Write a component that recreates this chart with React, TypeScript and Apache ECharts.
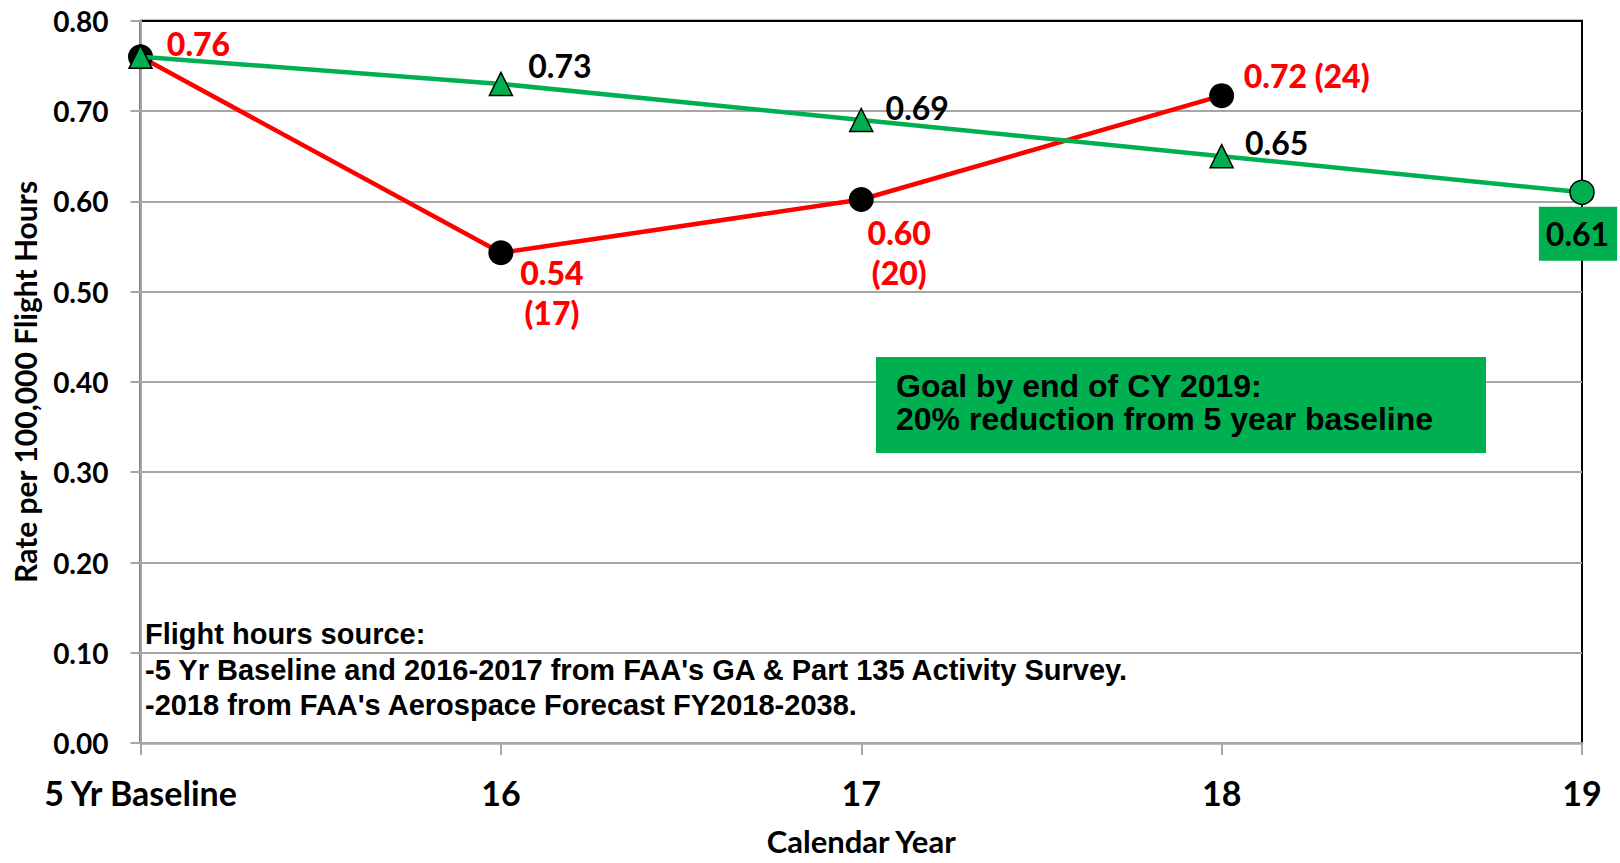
import React, { useEffect, useRef } from 'react';
import * as echarts from 'echarts';

const categories = ['5 Yr Baseline', '16', '17', '18', '19'];
const actualRate: (number | null)[] = [0.76, 0.543, 0.602, 0.717, null];
const accidentCounts: (number | null)[] = [null, 17, 20, 24, null];
const goalRate = [0.76, 0.73, 0.69, 0.65, 0.61];
const yMin = 0;
const yMax = 0.8;
const yStep = 0.1;
const goalNote = ['Goal by end of CY 2019:', '20% reduction from 5 year baseline'];
const sourceNote = [
  'Flight hours source:',
  "-5 Yr Baseline and 2016-2017 from FAA's GA & Part 135 Activity Survey.",
  "-2018 from FAA's Aerospace Forecast FY2018-2038.",
];

const RED = '#ff0000';
const GREEN = '#00b050';
const GRIDGRAY = '#a6a6a6';
const CAL = 'Lato, "Open Sans", sans-serif';
const ARIAL = '"Liberation Sans", Arial, sans-serif';

const redOffsets = [[58, -13], [51, 40], [38, 53], [85, -20]];
const greenOffsets = [null, [59, -18], [56, -13], [55, -14], [-4, 41.5]];

export default function App() {
  const ref = useRef<HTMLDivElement>(null);
  useEffect(() => {
    if (!ref.current) return;
    const chart = echarts.init(ref.current, null, { renderer: 'svg' });

    const redData = actualRate.map((v, i) => {
      if (v == null) return null;
      const txt = v.toFixed(2);
      const c = accidentCounts[i];
      let text = txt;
      if (c != null) text = i === 3 ? `${txt} (${c})` : `${txt}\n(${c})`;
      return {
        value: v,
        label: {
          show: true,
          position: 'inside',
          offset: redOffsets[i],
          formatter: text,
          color: RED,
          fontFamily: CAL,
          fontWeight: 900,
          fontSize: 32,
          lineHeight: 40,
          align: 'center',
          verticalAlign: 'middle',
        },
      };
    });

    const greenData = goalRate.map((v, i) => {
      const off = greenOffsets[i];
      const last = i === goalRate.length - 1;
      return {
        value: v,
        symbol: last ? 'circle' : 'triangle',
        symbolSize: last ? 24 : 23,
        label: off
          ? {
              show: true,
              position: 'inside',
              offset: off,
              formatter: v.toFixed(2),
              color: '#000',
              fontFamily: CAL,
              fontWeight: 'bold',
              fontSize: 32,
              lineHeight: 32,
              align: 'center',
              verticalAlign: 'middle',
              ...(last
                ? { backgroundColor: GREEN, padding: [11, 8, 11, 7] }
                : {}),
            }
          : { show: false },
      };
    });

    const splitColors = [];
    for (let v = yMin; v < yMax - 1e-9; v += yStep) splitColors.push(GRIDGRAY);
    splitColors.push('#000000');

    chart.setOption({
      animation: false,
      backgroundColor: '#fff',
      grid: {
        left: 140.5,
        right: 38,
        top: 20.7,
        bottom: 119.9,
        containLabel: false,
        outerBoundsMode: 'none',
        show: true,
        borderColor: '#000',
        borderWidth: 2,
        backgroundColor: 'transparent',
      },
      xAxis: {
        type: 'category',
        data: categories,
        boundaryGap: false,
        name: 'Calendar Year',
        nameLocation: 'middle',
        nameGap: 82,
        nameTextStyle: {
          fontFamily: CAL,
          fontWeight: 'bold',
          fontSize: 31,
          lineHeight: 31,
          color: '#000',
        },
        axisLine: { lineStyle: { color: GRIDGRAY, width: 2.5 } },
        axisTick: { show: true, length: 12, lineStyle: { color: GRIDGRAY, width: 2 } },
        axisLabel: {
          margin: 32,
          fontFamily: CAL,
          fontWeight: 'bold',
          fontSize: 34,
          color: '#000',
        },
        splitLine: { show: false },
      },
      yAxis: {
        type: 'value',
        min: yMin,
        max: yMax,
        interval: yStep,
        name: 'Rate per 100,000 Flight Hours',
        nameLocation: 'middle',
        nameRotate: 90,
        nameGap: 101,
        nameTextStyle: { fontFamily: CAL, fontWeight: 'bold', fontSize: 30, color: '#000' },
        axisLine: { show: true, lineStyle: { color: GRIDGRAY, width: 2 } },
        axisTick: { show: true, length: 10, lineStyle: { color: GRIDGRAY, width: 2 } },
        axisLabel: {
          margin: 32,
          formatter: (v: number) => v.toFixed(2),
          fontFamily: CAL,
          fontWeight: 'bold',
          fontSize: 28,
          color: '#000',
        },
        splitLine: { show: true, lineStyle: { color: splitColors, width: 2 } },
      },
      series: [
        {
          name: 'Actual',
          type: 'line',
          data: redData,
          symbol: 'circle',
          symbolSize: 25,
          itemStyle: { color: '#000' },
          lineStyle: { color: RED, width: 4.5 },
          z: 3,
        },
        {
          name: 'Goal',
          type: 'line',
          data: greenData,
          itemStyle: { color: GREEN, borderColor: '#000', borderWidth: 1.5 },
          lineStyle: { color: GREEN, width: 4.5 },
          z: 4,
        },
      ],
      graphic: [
        {
          type: 'group',
          z: 100,
          children: [
            {
              type: 'rect',
              z: 100,
              shape: { x: 876, y: 357, width: 610, height: 96 },
              style: { fill: GREEN },
            },
            {
              type: 'text',
              z: 101,
              x: 896,
              y: 369,
              style: {
                text: goalNote.join('\n'),
                font: `bold 32px ${ARIAL}`,
                lineHeight: 33.4,
                fill: '#000',
                verticalAlign: 'top',
                align: 'left',
              },
            },
          ],
        },
        {
          type: 'text',
          z: 100,
          x: 145,
          y: 616.7,
          style: {
            text: sourceNote.join('\n'),
            font: `bold 29px ${ARIAL}`,
            lineHeight: 35.5,
            fill: '#000',
            verticalAlign: 'top',
            align: 'left',
          },
        },
      ],
    });
    return () => chart.dispose();
  }, []);

  return (
    <div
      ref={ref}
      style={{ position: 'absolute', left: 0, top: 0, width: 1620, height: 863, background: '#fff' }}
    />
  );
}
